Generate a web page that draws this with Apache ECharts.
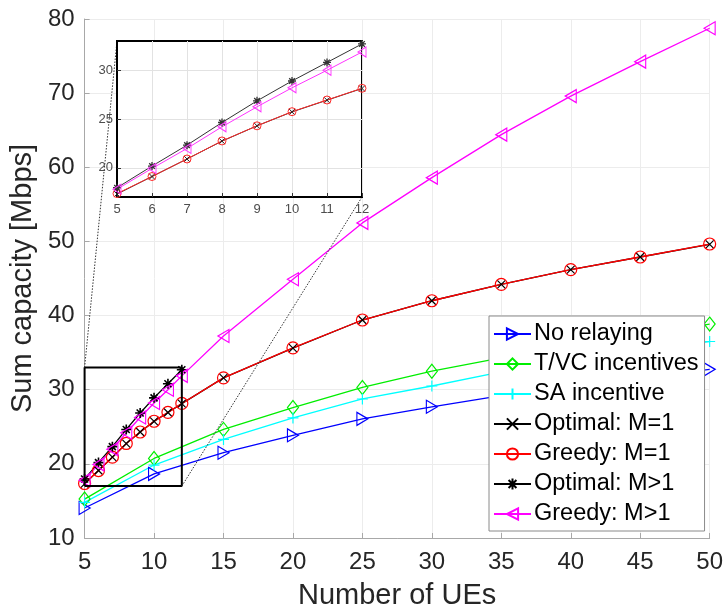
<!DOCTYPE html>
<html>
<head>
<meta charset="utf-8">
<script src="https://cdn.jsdelivr.net/npm/echarts@6/dist/echarts.min.js"></script>
<style>
html,body{margin:0;padding:0;background:#fff;}
#chart{width:726px;height:615px;}
</style>
</head>
<body>
<div id="chart"></div>
<script>
// ---- data ----
const xFine = [5, 6, 7, 8, 9, 10, 11, 12, 15, 20, 25, 30, 35, 40, 45, 50];
const xCoarse = [5, 10, 15, 20, 25, 30, 35, 40, 45, 50];
const xOptMgt1 = [5, 6, 7, 8, 9, 10, 11, 12];

const noRelaying   = [14.05, 18.64, 21.5, 23.85, 26.07, 27.7, 29.2, 30.4, 31.6, 32.75];
const tvcIncent    = [15.25, 20.73, 24.65, 27.6, 30.3, 32.5, 34.3, 35.9, 37.4, 38.85];
const saIncent     = [14.8, 19.84, 23.3, 26.2, 28.75, 30.5, 32.4, 34.0, 35.3, 36.5];
const optimalM1    = [17.3, 19.1, 20.9, 22.73, 24.3, 25.73, 26.93, 28.13, 31.6, 35.6, 39.4, 42.0, 44.2, 46.2, 47.9, 49.6];
const greedyM1     = [17.35, 19.1, 20.9, 22.75, 24.3, 25.75, 26.95, 28.15, 31.6, 35.65, 39.4, 42.0, 44.2, 46.2, 47.9, 49.65];
const optimalMgt1  = [17.95, 20.17, 22.32, 24.64, 26.86, 28.9, 30.8, 32.7];
const greedyMgt1   = [17.8, 19.93, 21.98, 24.2, 26.25, 28.2, 30.0, 31.87, 37.25, 44.9, 52.5, 58.6, 64.4, 69.6, 74.25, 78.75];

const seriesNames = ['No relaying', 'T/VC incentives', 'SA incentive', 'Optimal: M=1', 'Greedy: M=1', 'Optimal: M>1', 'Greedy: M>1'];

const xRange = [5, 50];
const yRange = [10, 80];
const insetXRange = [5, 12];
const insetYRange = [17, 33];
const insetYTicks = [20, 25, 30];

// ---- helpers ----
function pair(xs, ys) { return ys.map((y, i) => [xs[i], y]); }
function inInset(xs, ys) {
  return pair(xs, ys).filter(p => p[0] >= insetXRange[0] && p[0] <= insetXRange[1]);
}

const SYM = {
  right: 'path://M0,0L10,5L0,10Z',
  left: 'path://M10,0L0,5L10,10Z',
  diamond: 'path://M5,0L10,5L5,10L0,5Z',
  plus: 'path://M5,0L5,10M0,5L10,5',
  cross: 'path://M0,0L10,10M10,0L0,10',
  star: 'path://M5,0L5,10M0,5L10,5M1.5,1.5L8.5,8.5M8.5,1.5L1.5,8.5',
  circle: 'circle'
};

function mkSeries(name, color, data, symbol, size, opts) {
  opts = opts || {};
  return {
    name: name,
    type: 'line',
    xAxisIndex: opts.inset ? 1 : 0,
    yAxisIndex: opts.inset ? 1 : 0,
    data: data,
    symbol: symbol,
    symbolSize: size,
    showAllSymbol: true,
    animation: false,
    z: opts.inset ? 7 : 2,
    lineStyle: { color: color, width: opts.inset ? 1 : 1.3 },
    itemStyle: { color: 'transparent', borderColor: color, borderWidth: opts.bw || 1.2 },
    emphasis: { disabled: true },
    silent: true
  };
}

const chart = echarts.init(document.getElementById('chart'), null, { renderer: 'canvas' });

const FONT = 'Liberation Sans, Arial, Helvetica, sans-serif';

const option = {
  backgroundColor: '#fff',
  animation: false,
  textStyle: { fontFamily: FONT },
  grid: [
    { left: 82, top: 19, width: 629, height: 523, containLabel: false },
    { left: 117, top: 41, width: 245, height: 156, show: true, backgroundColor: '#fff',
      borderColor: '#000', borderWidth: 2, z: 5 }
  ],
  xAxis: [
    {
      type: 'value', gridIndex: 0, min: xRange[0], max: xRange[1], interval: 5,
      name: 'Number of UEs', nameLocation: 'middle', nameGap: 43,
      nameTextStyle: { fontSize: 29, color: '#262626', fontFamily: FONT },
      axisLine: { show: true, onZero: false, lineStyle: { color: '#a8a8a8', width: 1 } },
      axisTick: { show: true, inside: true, length: 5, lineStyle: { color: '#a8a8a8' } },
      axisLabel: { fontSize: 24, color: '#262626', margin: 12, fontFamily: FONT },
      splitLine: { show: true, lineStyle: { color: '#ececec', width: 1 } }
    },
    {
      type: 'value', gridIndex: 1, min: insetXRange[0], max: insetXRange[1], interval: 1,
      z: 6,
      axisLine: { show: true, onZero: false, lineStyle: { color: '#000', width: 2 } },
      axisTick: { show: true, inside: true, length: 4, lineStyle: { color: '#333' } },
      axisLabel: { fontSize: 13, color: '#4d4d4d', margin: 6, fontFamily: FONT },
      splitLine: { show: true, lineStyle: { color: '#e2e2e2', width: 1 } }
    }
  ],
  yAxis: [
    {
      type: 'value', gridIndex: 0, min: yRange[0], max: yRange[1], interval: 10,
      name: 'Sum capacity [Mbps]', nameLocation: 'middle', nameGap: 38, nameRotate: 90,
      nameTextStyle: { fontSize: 29, color: '#262626', fontFamily: FONT },
      axisLine: { show: true, onZero: false, lineStyle: { color: '#a8a8a8', width: 1 } },
      axisTick: { show: true, inside: true, length: 5, lineStyle: { color: '#a8a8a8' } },
      axisLabel: { fontSize: 24, color: '#262626', margin: 10, fontFamily: FONT },
      splitLine: { show: true, lineStyle: { color: '#ececec', width: 1 } }
    },
    {
      type: 'value', gridIndex: 1, min: insetYRange[0], max: insetYRange[1],
      z: 6,
      axisLine: { show: true, onZero: false, lineStyle: { color: '#000', width: 2 } },
      axisTick: { show: true, inside: true, length: 4, lineStyle: { color: '#333' }, customValues: insetYTicks },
      axisLabel: { fontSize: 13, color: '#4d4d4d', margin: 4, fontFamily: FONT, customValues: insetYTicks },
      splitLine: { show: true, lineStyle: { color: '#e2e2e2', width: 1 } }
    }
  ],
  legend: {
    data: seriesNames,
    orient: 'vertical',
    left: 489, top: 316,
    padding: [6, 6, 5, 4],
    itemGap: 6,
    itemWidth: 37,
    itemHeight: 14,
    backgroundColor: '#fff',
    borderColor: '#8a8a8a',
    borderWidth: 1,
    borderRadius: 0,
    selectedMode: false,
    z: 10,
    textStyle: { fontSize: 23.5, lineHeight: 24, color: '#000', fontFamily: FONT, padding: [0, 0, 0, -2] }
  },
  series: [
    mkSeries('No relaying', '#0000ff', pair(xCoarse, noRelaying), SYM.right, [11, 13]),
    mkSeries('T/VC incentives', '#00ee00', pair(xCoarse, tvcIncent), SYM.diamond, [11, 14]),
    mkSeries('SA incentive', '#00ffff', pair(xCoarse, saIncent), SYM.plus, 11),
    mkSeries('Optimal: M=1', '#000000', pair(xFine, optimalM1), SYM.cross, 8),
    mkSeries('Greedy: M=1', '#ff0000', pair(xFine, greedyM1), SYM.circle, 12),
    mkSeries('Optimal: M>1', '#000000', pair(xOptMgt1, optimalMgt1), SYM.star, 10, { bw: 1.6 }),
    mkSeries('Greedy: M>1', '#ff00ff', pair(xFine, greedyMgt1), SYM.left, [11, 13]),
    // zoom rectangle in the main axes
    {
      name: 'zoomRect', type: 'line', xAxisIndex: 0, yAxisIndex: 0, symbol: 'none', silent: true, z: 3,
      data: [[insetXRange[0], insetYRange[0]], [insetXRange[1], insetYRange[0]], [insetXRange[1], insetYRange[1]],
             [insetXRange[0], insetYRange[1]], [insetXRange[0], insetYRange[0]]],
      lineStyle: { color: '#000', width: 2 }
    },
    // inset series
    mkSeries('in-opt1', '#222222', inInset(xFine, optimalM1), SYM.cross, 6, { inset: true, bw: 1 }),
    mkSeries('in-gr1', '#ff2a2a', inInset(xFine, greedyM1), SYM.circle, 8, { inset: true, bw: 1 }),
    mkSeries('in-optm', '#333333', inInset(xOptMgt1, optimalMgt1), SYM.star, 8, { inset: true, bw: 1.3 }),
    mkSeries('in-grm', '#ff33ff', inInset(xFine, greedyMgt1), SYM.left, [8, 10], { inset: true, bw: 1 })
  ]
};

chart.setOption(option);

// dotted connectors between the zoom rectangle and the inset
const a1 = chart.convertToPixel({ xAxisIndex: 0, yAxisIndex: 0 }, [insetXRange[0], insetYRange[1]]);
const b1 = chart.convertToPixel({ xAxisIndex: 1, yAxisIndex: 1 }, [insetXRange[0], insetYRange[1]]);
const a2 = chart.convertToPixel({ xAxisIndex: 0, yAxisIndex: 0 }, [insetXRange[1], insetYRange[0]]);
const b2 = chart.convertToPixel({ xAxisIndex: 1, yAxisIndex: 1 }, [insetXRange[1], insetYRange[0]]);
chart.setOption({
  graphic: [
    { type: 'line', z: 4, silent: true, shape: { x1: a1[0], y1: a1[1], x2: b1[0], y2: b1[1] },
      style: { stroke: '#333', lineWidth: 1, lineDash: [1.5, 1.5] } },
    { type: 'line', z: 4, silent: true, shape: { x1: a2[0], y1: a2[1], x2: b2[0], y2: b2[1] },
      style: { stroke: '#333', lineWidth: 1, lineDash: [1.5, 1.5] } }
  ]
});
</script>
</body>
</html>
